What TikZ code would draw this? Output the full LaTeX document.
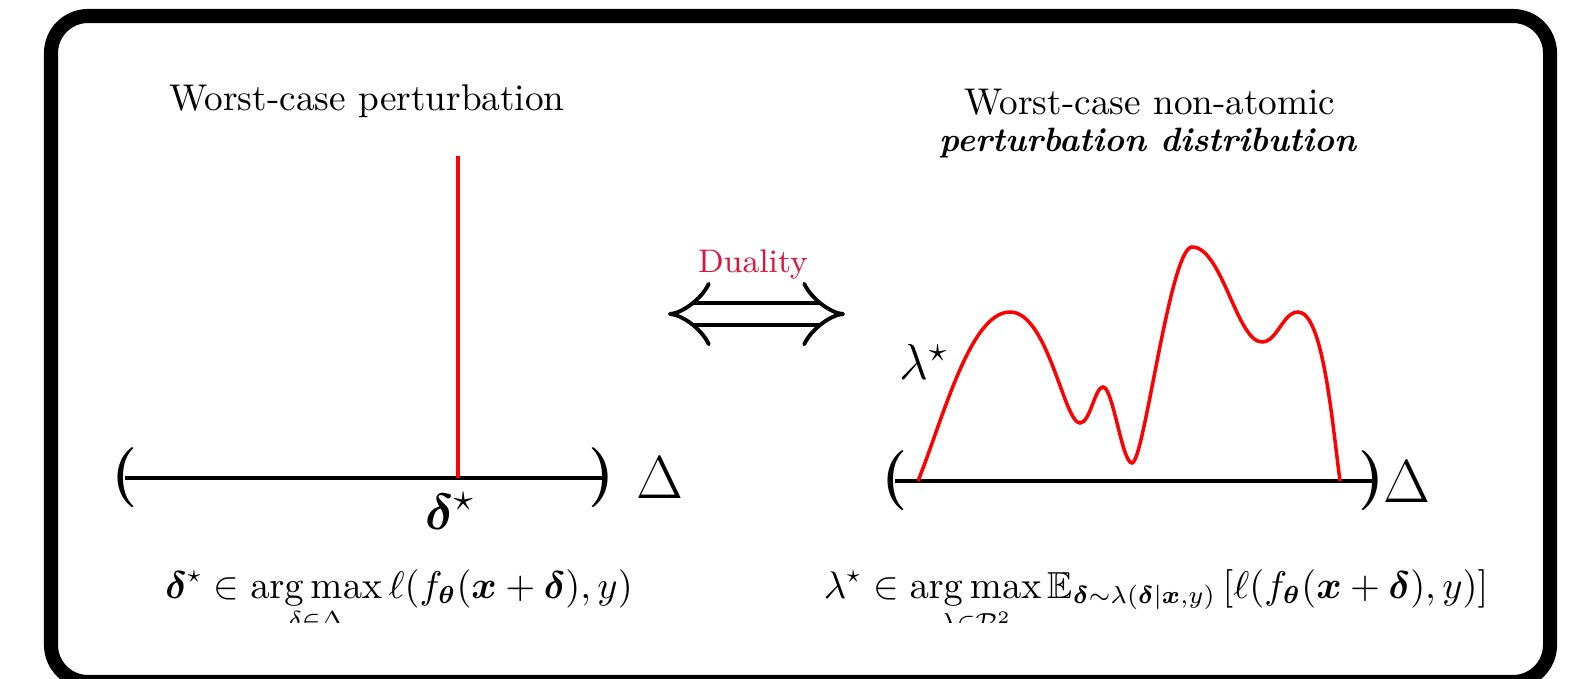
\documentclass[tikz,border=0pt]{standalone}
\usepackage{amsmath,amssymb,bm}
\usetikzlibrary{arrows.meta}
\definecolor{crimson}{RGB}{220,20,60}

\begin{document}
\begin{tikzpicture}[x=1cm, y=1cm,
    paren/.style={inner sep=0pt, font=\fontsize{17}{17}\selectfont\bfseries},
    axe/.style={line width=1.2pt},
    rouge/.style={red, line width=1pt},
    titre/.style={anchor=base, font=\fontsize{10.6}{12}\selectfont},
    formule/.style={anchor=base, font=\fontsize{10.7}{13}\selectfont}]
    \useasboundingbox (0,0) rectangle (15.77,6.78);

    % Le cadre
    \draw[line width=4pt, rounded corners=0.37cm] (0.51,-0.04) rectangle (15.50,6.62);

    % Les titres
    \node[titre] (titreG) at (3.67,5.67) {Worst-case perturbation};
    \node[titre] (titreD) at (11.50,5.63) {Worst-case non-atomic};
    \node[titre, font=\fontsize{9.6}{11}\selectfont\bfseries\itshape] (titreDD) at (11.48,5.26) {perturbation distribution};

    % Intervalle de gauche
    \node[paren] (pg) at (1.25,2.0) {(};
    \node[paren] (pd) at (6.02,2.0) {)};
    \draw[axe] (pg.center) -- (pd.center);
    \node[font=\fontsize{16}{16}\selectfont] (deltaG) at (6.60,2.0) {$\Delta$};

    % La perturbation delta*
    \coordinate (dbas) at (4.58,2.0);
    \coordinate (dhaut) at (4.58,5.22);
    \draw[rouge] (dbas) -- (dhaut);
    \node[font=\fontsize{15}{15}\selectfont] (dstar) at (4.50,1.67) {$\bm{\delta}^{\star}$};

    % Dualite (double fleche)
    \coordinate (dualG) at (6.68,3.64);
    \coordinate (dualD) at (8.45,3.64);
    \draw[double, double distance=5.4pt, line width=1.1pt, {Implies}-{Implies}] (dualG) -- (dualD);
    \node[text=crimson, font=\fontsize{9.3}{11}\selectfont] (dual) at (7.53,4.13) {Duality};

    % Intervalle de droite
    \node[paren] (qg) at (8.95,1.97) {(};
    \node[paren] (qd) at (13.72,1.97) {)};
    \draw[axe] (qg.center) -- (qd.center);
    \node[font=\fontsize{16}{16}\selectfont] (deltaD) at (14.07,1.96) {$\Delta$};

    % La distribution lambda*
    \coordinate (l0) at (9.18,1.97);
    \coordinate (l8) at (13.40,1.97);
    \draw[rouge] (l0) .. controls +(0.25,0.62) and +(-0.4,0) .. (10.10,3.66)
        .. controls +(0.38,0) and +(-0.16,0) .. (10.80,2.55)
        .. controls +(0.1,0) and +(-0.08,0) .. (11.03,2.91)
        .. controls +(0.1,0) and +(-0.1,0) .. (11.32,2.15)
        .. controls +(0.12,0) and +(-0.22,0) .. (11.92,4.31)
        .. controls +(0.3,0) and +(-0.25,0) .. (12.62,3.36)
        .. controls +(0.15,0) and +(-0.15,0) .. (12.98,3.66)
        .. controls +(0.25,0) and +(-0.08,0.6) .. (l8);
    \node[font=\fontsize{14}{14}\selectfont] (lstar) at (9.24,3.16) {$\lambda^{\star}$};

    % Les formules (coupees en bas)
    \begin{scope}
    \clip (0,0.56) rectangle (15.77,6.78);
    \node[formule] (formG) at (3.99,0.80)
        {$\displaystyle \bm{\delta}^{\star}\in\operatorname*{arg\,max}_{\delta\in\Delta}\ell(f_{\bm{\theta}}(\bm{x}+\bm{\delta}),y)$};
    \node[formule] (formD) at (11.56,0.80)
        {$\displaystyle \lambda^{\star}\in\operatorname*{arg\,max}_{\lambda\in\mathcal{P}^2}\mathbb{E}_{\bm{\delta}\sim\lambda(\bm{\delta}|\bm{x},y)}\,[\ell(f_{\bm{\theta}}(\bm{x}+\bm{\delta}),y)]$};
    \end{scope}
\end{tikzpicture}
\end{document}
